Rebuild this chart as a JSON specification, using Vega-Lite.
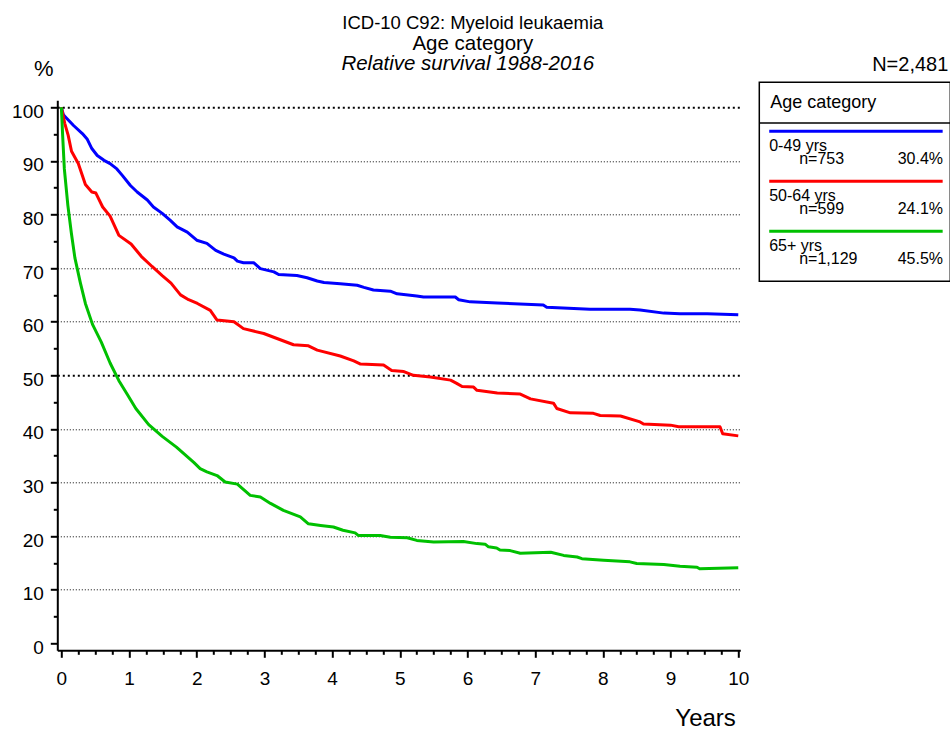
{
  "$schema": "https://vega.github.io/schema/vega-lite/v6.json",
  "autosize": {"type": "pad"},
  "padding": {"left": 11.3, "top": 14.3, "right": 0, "bottom": 0},
  "background": "white",
  "bounds": "flush",
  "spacing": 19,
  "config": {
    "font": "Liberation Sans",
    "view": {"stroke": null},
    "axis": {
      "labelColor": "black",
      "tickColor": "black",
      "domainColor": "black",
      "titleColor": "black",
      "labelFont": "Liberation Sans",
      "titleFont": "Liberation Sans"
    },
    "text": {"color": "black", "font": "Liberation Sans"}
  },
  "datasets": {
    "survival": [
      {"group": "0-49 yrs", "year": 0, "survival": 100},
      {"group": "0-49 yrs", "year": 0.03, "survival": 98.6},
      {"group": "0-49 yrs", "year": 0.06, "survival": 98.2},
      {"group": "0-49 yrs", "year": 0.18, "survival": 96.6},
      {"group": "0-49 yrs", "year": 0.31, "survival": 95.1},
      {"group": "0-49 yrs", "year": 0.38, "survival": 94.1},
      {"group": "0-49 yrs", "year": 0.45, "survival": 92.3},
      {"group": "0-49 yrs", "year": 0.53, "survival": 91.0},
      {"group": "0-49 yrs", "year": 0.63, "survival": 90.1},
      {"group": "0-49 yrs", "year": 0.72, "survival": 89.5},
      {"group": "0-49 yrs", "year": 0.82, "survival": 88.5},
      {"group": "0-49 yrs", "year": 0.90, "survival": 87.3},
      {"group": "0-49 yrs", "year": 1.02, "survival": 85.4},
      {"group": "0-49 yrs", "year": 1.12, "survival": 84.2},
      {"group": "0-49 yrs", "year": 1.27, "survival": 82.7},
      {"group": "0-49 yrs", "year": 1.36, "survival": 81.4},
      {"group": "0-49 yrs", "year": 1.49, "survival": 80.2},
      {"group": "0-49 yrs", "year": 1.61, "survival": 78.9},
      {"group": "0-49 yrs", "year": 1.71, "survival": 77.7},
      {"group": "0-49 yrs", "year": 1.86, "survival": 76.7},
      {"group": "0-49 yrs", "year": 2.00, "survival": 75.2},
      {"group": "0-49 yrs", "year": 2.15, "survival": 74.6},
      {"group": "0-49 yrs", "year": 2.28, "survival": 73.3},
      {"group": "0-49 yrs", "year": 2.40, "survival": 72.6},
      {"group": "0-49 yrs", "year": 2.55, "survival": 71.9},
      {"group": "0-49 yrs", "year": 2.60, "survival": 71.3},
      {"group": "0-49 yrs", "year": 2.69, "survival": 71.0},
      {"group": "0-49 yrs", "year": 2.84, "survival": 71.0},
      {"group": "0-49 yrs", "year": 2.94, "survival": 69.9},
      {"group": "0-49 yrs", "year": 3.14, "survival": 69.3},
      {"group": "0-49 yrs", "year": 3.21, "survival": 68.8},
      {"group": "0-49 yrs", "year": 3.48, "survival": 68.6},
      {"group": "0-49 yrs", "year": 3.63, "survival": 68.2},
      {"group": "0-49 yrs", "year": 3.78, "survival": 67.6},
      {"group": "0-49 yrs", "year": 3.88, "survival": 67.3},
      {"group": "0-49 yrs", "year": 4.12, "survival": 67.1},
      {"group": "0-49 yrs", "year": 4.37, "survival": 66.8},
      {"group": "0-49 yrs", "year": 4.47, "survival": 66.4},
      {"group": "0-49 yrs", "year": 4.61, "survival": 65.9},
      {"group": "0-49 yrs", "year": 4.86, "survival": 65.7},
      {"group": "0-49 yrs", "year": 4.96, "survival": 65.2},
      {"group": "0-49 yrs", "year": 5.25, "survival": 64.8},
      {"group": "0-49 yrs", "year": 5.35, "survival": 64.6},
      {"group": "0-49 yrs", "year": 5.82, "survival": 64.6},
      {"group": "0-49 yrs", "year": 5.87, "survival": 64.1},
      {"group": "0-49 yrs", "year": 6.04, "survival": 63.7},
      {"group": "0-49 yrs", "year": 6.44, "survival": 63.5},
      {"group": "0-49 yrs", "year": 7.12, "survival": 63.1},
      {"group": "0-49 yrs", "year": 7.17, "survival": 62.7},
      {"group": "0-49 yrs", "year": 7.81, "survival": 62.3},
      {"group": "0-49 yrs", "year": 8.40, "survival": 62.3},
      {"group": "0-49 yrs", "year": 8.55, "survival": 62.2},
      {"group": "0-49 yrs", "year": 8.90, "survival": 61.6},
      {"group": "0-49 yrs", "year": 9.14, "survival": 61.5},
      {"group": "0-49 yrs", "year": 9.54, "survival": 61.5},
      {"group": "0-49 yrs", "year": 10.0, "survival": 61.3},

      {"group": "50-64 yrs", "year": 0, "survival": 100},
      {"group": "50-64 yrs", "year": 0.05, "survival": 97.0},
      {"group": "50-64 yrs", "year": 0.10, "survival": 94.8},
      {"group": "50-64 yrs", "year": 0.15, "survival": 91.8},
      {"group": "50-64 yrs", "year": 0.25, "survival": 89.5},
      {"group": "50-64 yrs", "year": 0.355, "survival": 85.6},
      {"group": "50-64 yrs", "year": 0.45, "survival": 84.2},
      {"group": "50-64 yrs", "year": 0.51, "survival": 84.0},
      {"group": "50-64 yrs", "year": 0.61, "survival": 81.4},
      {"group": "50-64 yrs", "year": 0.72, "survival": 79.7},
      {"group": "50-64 yrs", "year": 0.85, "survival": 76.1},
      {"group": "50-64 yrs", "year": 1.03, "survival": 74.5},
      {"group": "50-64 yrs", "year": 1.18, "survival": 72.2},
      {"group": "50-64 yrs", "year": 1.34, "survival": 70.3},
      {"group": "50-64 yrs", "year": 1.49, "survival": 68.6},
      {"group": "50-64 yrs", "year": 1.62, "survival": 67.2},
      {"group": "50-64 yrs", "year": 1.76, "survival": 65.0},
      {"group": "50-64 yrs", "year": 1.88, "survival": 64.1},
      {"group": "50-64 yrs", "year": 2.01, "survival": 63.4},
      {"group": "50-64 yrs", "year": 2.20, "survival": 62.1},
      {"group": "50-64 yrs", "year": 2.30, "survival": 60.3},
      {"group": "50-64 yrs", "year": 2.55, "survival": 60.0},
      {"group": "50-64 yrs", "year": 2.69, "survival": 58.7},
      {"group": "50-64 yrs", "year": 2.99, "survival": 57.8},
      {"group": "50-64 yrs", "year": 3.43, "survival": 55.7},
      {"group": "50-64 yrs", "year": 3.65, "survival": 55.5},
      {"group": "50-64 yrs", "year": 3.78, "survival": 54.7},
      {"group": "50-64 yrs", "year": 4.12, "survival": 53.6},
      {"group": "50-64 yrs", "year": 4.32, "survival": 52.7},
      {"group": "50-64 yrs", "year": 4.42, "survival": 52.1},
      {"group": "50-64 yrs", "year": 4.76, "survival": 51.9},
      {"group": "50-64 yrs", "year": 4.88, "survival": 50.9},
      {"group": "50-64 yrs", "year": 5.06, "survival": 50.7},
      {"group": "50-64 yrs", "year": 5.20, "survival": 50.0},
      {"group": "50-64 yrs", "year": 5.45, "survival": 49.7},
      {"group": "50-64 yrs", "year": 5.75, "survival": 49.1},
      {"group": "50-64 yrs", "year": 5.84, "survival": 48.5},
      {"group": "50-64 yrs", "year": 5.92, "survival": 47.9},
      {"group": "50-64 yrs", "year": 6.09, "survival": 47.8},
      {"group": "50-64 yrs", "year": 6.14, "survival": 47.2},
      {"group": "50-64 yrs", "year": 6.44, "survival": 46.7},
      {"group": "50-64 yrs", "year": 6.78, "survival": 46.5},
      {"group": "50-64 yrs", "year": 6.93, "survival": 45.6},
      {"group": "50-64 yrs", "year": 7.27, "survival": 44.8},
      {"group": "50-64 yrs", "year": 7.32, "survival": 43.8},
      {"group": "50-64 yrs", "year": 7.52, "survival": 43.0},
      {"group": "50-64 yrs", "year": 7.86, "survival": 42.9},
      {"group": "50-64 yrs", "year": 7.96, "survival": 42.5},
      {"group": "50-64 yrs", "year": 8.26, "survival": 42.4},
      {"group": "50-64 yrs", "year": 8.55, "survival": 41.3},
      {"group": "50-64 yrs", "year": 8.60, "survival": 40.9},
      {"group": "50-64 yrs", "year": 9.00, "survival": 40.7},
      {"group": "50-64 yrs", "year": 9.12, "survival": 40.4},
      {"group": "50-64 yrs", "year": 9.73, "survival": 40.4},
      {"group": "50-64 yrs", "year": 9.77, "survival": 39.1},
      {"group": "50-64 yrs", "year": 10.0, "survival": 38.7},

      {"group": "65+ yrs", "year": 0, "survival": 100},
      {"group": "65+ yrs", "year": 0.02, "survival": 94.5},
      {"group": "65+ yrs", "year": 0.044, "survival": 88.5},
      {"group": "65+ yrs", "year": 0.096, "survival": 81.7},
      {"group": "65+ yrs", "year": 0.148, "survival": 76.5},
      {"group": "65+ yrs", "year": 0.20, "survival": 71.9},
      {"group": "65+ yrs", "year": 0.28, "survival": 67.3},
      {"group": "65+ yrs", "year": 0.355, "survival": 63.4},
      {"group": "65+ yrs", "year": 0.46, "survival": 59.5},
      {"group": "65+ yrs", "year": 0.59, "survival": 56.2},
      {"group": "65+ yrs", "year": 0.72, "survival": 52.3},
      {"group": "65+ yrs", "year": 0.85, "survival": 49.0},
      {"group": "65+ yrs", "year": 0.975, "survival": 46.4},
      {"group": "65+ yrs", "year": 1.10, "survival": 43.8},
      {"group": "65+ yrs", "year": 1.29, "survival": 40.8},
      {"group": "65+ yrs", "year": 1.49, "survival": 38.6},
      {"group": "65+ yrs", "year": 1.70, "survival": 36.6},
      {"group": "65+ yrs", "year": 1.96, "survival": 33.7},
      {"group": "65+ yrs", "year": 2.05, "survival": 32.6},
      {"group": "65+ yrs", "year": 2.15, "survival": 32.0},
      {"group": "65+ yrs", "year": 2.30, "survival": 31.3},
      {"group": "65+ yrs", "year": 2.42, "survival": 30.1},
      {"group": "65+ yrs", "year": 2.60, "survival": 29.7},
      {"group": "65+ yrs", "year": 2.79, "survival": 27.6},
      {"group": "65+ yrs", "year": 2.94, "survival": 27.3},
      {"group": "65+ yrs", "year": 3.09, "survival": 26.1},
      {"group": "65+ yrs", "year": 3.28, "survival": 24.8},
      {"group": "65+ yrs", "year": 3.53, "survival": 23.6},
      {"group": "65+ yrs", "year": 3.65, "survival": 22.3},
      {"group": "65+ yrs", "year": 3.83, "survival": 22.0},
      {"group": "65+ yrs", "year": 4.02, "survival": 21.7},
      {"group": "65+ yrs", "year": 4.16, "survival": 21.1},
      {"group": "65+ yrs", "year": 4.34, "survival": 20.6},
      {"group": "65+ yrs", "year": 4.39, "survival": 20.1},
      {"group": "65+ yrs", "year": 4.71, "survival": 20.1},
      {"group": "65+ yrs", "year": 4.86, "survival": 19.8},
      {"group": "65+ yrs", "year": 5.11, "survival": 19.7},
      {"group": "65+ yrs", "year": 5.25, "survival": 19.2},
      {"group": "65+ yrs", "year": 5.50, "survival": 18.9},
      {"group": "65+ yrs", "year": 5.94, "survival": 19.0},
      {"group": "65+ yrs", "year": 6.14, "survival": 18.6},
      {"group": "65+ yrs", "year": 6.26, "survival": 18.5},
      {"group": "65+ yrs", "year": 6.31, "survival": 18.0},
      {"group": "65+ yrs", "year": 6.43, "survival": 17.8},
      {"group": "65+ yrs", "year": 6.48, "survival": 17.4},
      {"group": "65+ yrs", "year": 6.63, "survival": 17.3},
      {"group": "65+ yrs", "year": 6.78, "survival": 16.8},
      {"group": "65+ yrs", "year": 7.23, "survival": 17.0},
      {"group": "65+ yrs", "year": 7.42, "survival": 16.4},
      {"group": "65+ yrs", "year": 7.62, "survival": 16.1},
      {"group": "65+ yrs", "year": 7.69, "survival": 15.8},
      {"group": "65+ yrs", "year": 8.01, "survival": 15.5},
      {"group": "65+ yrs", "year": 8.40, "survival": 15.2},
      {"group": "65+ yrs", "year": 8.50, "survival": 14.9},
      {"group": "65+ yrs", "year": 8.90, "survival": 14.7},
      {"group": "65+ yrs", "year": 9.14, "survival": 14.4},
      {"group": "65+ yrs", "year": 9.39, "survival": 14.2},
      {"group": "65+ yrs", "year": 9.43, "survival": 13.9},
      {"group": "65+ yrs", "year": 10.0, "survival": 14.1}
    ],
    "groups": [
      {"group": "0-49 yrs", "rank": 1, "n": "n=753", "share": "30.4%"},
      {"group": "50-64 yrs", "rank": 2, "n": "n=599", "share": "24.1%"},
      {"group": "65+ yrs", "rank": 3, "n": "n=1,129", "share": "45.5%"}
    ]
  },
  "hconcat": [
    {
      "width": 683,
      "height": 550,
      "title": {
        "text": "ICD-10 C92: Myeloid leukaemia",
        "subtitle": "Age category",
        "anchor": "middle",
        "frame": "group",
        "dx": 74,
        "offset": -1.5,
        "fontSize": 18.5,
        "fontWeight": "normal",
        "color": "black",
        "subtitleFontSize": 20.5,
        "subtitleColor": "black",
        "subtitlePadding": 1.5
      },
      "data": {"name": "survival"},
      "layer": [
        {
          "mark": {"type": "line", "strokeWidth": 3, "strokeJoin": "round"},
          "encoding": {
            "x": {
              "field": "year",
              "type": "quantitative",
              "scale": {"domain": [-0.06, 10.03], "nice": false, "zero": false},
              "axis": {
                "orient": "bottom",
                "values": [0, 0.25, 0.5, 0.75, 1, 1.25, 1.5, 1.75, 2, 2.25, 2.5, 2.75, 3, 3.25, 3.5, 3.75, 4, 4.25, 4.5, 4.75, 5, 5.25, 5.5, 5.75, 6, 6.25, 6.5, 6.75, 7, 7.25, 7.5, 7.75, 8, 8.25, 8.5, 8.75, 9, 9.25, 9.5, 9.75, 10],
                "labelExpr": "datum.value % 1 === 0 ? format(datum.value, 'd') : ''",
                "tickSize": {"condition": {"test": "datum.value % 1 !== 0", "value": 4}, "value": 7},
                "tickWidth": 2,
                "domainWidth": 2,
                "grid": false,
                "labelFontSize": 19,
                "labelPadding": 12,
                "labelFlush": false,
                "labelOverlap": false,
                "title": "Years",
                "titleFontSize": 24,
                "titleFontWeight": "normal",
                "titleX": 678,
                "titleY": 75,
                "titleAlign": "right",
                "titleBaseline": "alphabetic"
              }
            },
            "y": {
              "field": "survival",
              "type": "quantitative",
              "scale": {"domain": [-1.3, 101.3], "nice": false, "zero": false},
              "axis": {
                "orient": "left",
                "values": [0, 5, 10, 15, 20, 25, 30, 35, 40, 45, 50, 55, 60, 65, 70, 75, 80, 85, 90, 95, 100],
                "labelExpr": "datum.value % 10 === 0 ? format(datum.value, 'd') : ''",
                "tickSize": {"condition": {"test": "datum.value % 10 !== 0", "value": 4}, "value": 7},
                "tickWidth": 2,
                "domainWidth": 2,
                "grid": true,
                "gridColor": "black",
                "gridOpacity": {"condition": {"test": "datum.value % 10 !== 0 || datum.value === 0", "value": 0}, "value": 1},
                "gridWidth": {"condition": {"test": "datum.value % 50 === 0", "value": 2}, "value": 1},
                "gridDash": {"condition": {"test": "datum.value % 50 === 0", "value": [2, 3]}, "value": [1, 2]},
                "labelFontSize": 19,
                "labelPadding": 7,
                "labelOffset": 4,
                "labelBaseline": "middle",
                "labelOverlap": false,
                "title": "%",
                "titleAngle": 0,
                "titleFontSize": 22,
                "titleFontWeight": "normal",
                "titleX": -14,
                "titleY": -25,
                "titleAlign": "center",
                "titleBaseline": "alphabetic"
              }
            },
            "color": {
              "field": "group",
              "type": "nominal",
              "scale": {"domain": ["0-49 yrs", "50-64 yrs", "65+ yrs"], "range": ["#0000ff", "#ff0000", "#00c000"]},
              "legend": null
            }
          }
        },
        {
          "mark": {"type": "rule", "strokeOpacity": 0},
          "encoding": {
            "x": {
              "field": "year",
              "type": "quantitative",
              "axis": {
                "orient": "top",
                "domain": false,
                "ticks": false,
                "labels": false,
                "grid": false,
                "title": "Relative survival 1988-2016",
                "titleFontStyle": "italic",
                "titleFontWeight": "normal",
                "titleFontSize": 20.5,
                "titleX": 410,
                "titleY": -31,
                "titleAlign": "center",
                "titleBaseline": "alphabetic",
                "titleAngle": 0
              }
            }
          }
        }
      ],
      "resolve": {"axis": {"x": "independent"}}
    },
    {
      "width": 191,
      "height": 181,
      "title": {
        "text": "N=2,481",
        "anchor": "end",
        "frame": "group",
        "fontSize": 20,
        "fontWeight": "normal",
        "color": "black",
        "offset": 7,
        "dx": -2
      },
      "layer": [
        {
          "data": {"values": [{}]},
          "mark": {"type": "rect", "filled": false, "color": "black", "strokeWidth": 1.5},
          "encoding": {
            "x": {"datum": 0, "type": "quantitative", "scale": {"domain": [0, 1], "nice": false, "zero": false}, "axis": null},
            "x2": {"datum": 1},
            "y": {"datum": 0.02, "type": "quantitative", "scale": {"domain": [0.38, 4], "nice": false, "zero": false, "reverse": true}, "axis": null},
            "y2": {"datum": 4}
          }
        },
        {
          "data": {"values": [{}]},
          "mark": {"type": "rule", "color": "black", "strokeWidth": 1.5},
          "encoding": {
            "x": {"datum": 0, "type": "quantitative"},
            "x2": {"datum": 1},
            "y": {"datum": 0.834, "type": "quantitative"}
          }
        },
        {
          "data": {"values": [{}]},
          "mark": {"type": "text", "align": "left", "baseline": "alphabetic", "fontSize": 18},
          "encoding": {
            "x": {"datum": 0.057, "type": "quantitative"},
            "y": {"datum": 0.526, "type": "quantitative"},
            "text": {"value": "Age category"}
          }
        },
        {
          "data": {"name": "groups"},
          "mark": {"type": "rule", "strokeWidth": 3},
          "encoding": {
            "x": {"datum": 0.052, "type": "quantitative"},
            "x2": {"datum": 0.96},
            "y": {"field": "rank", "type": "quantitative"},
            "color": {
              "field": "group",
              "type": "nominal",
              "scale": {"domain": ["0-49 yrs", "50-64 yrs", "65+ yrs"], "range": ["#0000ff", "#ff0000", "#00c000"]},
              "legend": null
            }
          }
        },
        {
          "data": {"name": "groups"},
          "mark": {"type": "text", "align": "left", "baseline": "alphabetic", "fontSize": 16, "dy": 20},
          "encoding": {
            "x": {"datum": 0.052, "type": "quantitative"},
            "y": {"field": "rank", "type": "quantitative"},
            "text": {"field": "group"}
          }
        },
        {
          "data": {"name": "groups"},
          "mark": {"type": "text", "align": "left", "baseline": "alphabetic", "fontSize": 16, "dy": 33},
          "encoding": {
            "x": {"datum": 0.209, "type": "quantitative"},
            "y": {"field": "rank", "type": "quantitative"},
            "text": {"field": "n"}
          }
        },
        {
          "data": {"name": "groups"},
          "mark": {"type": "text", "align": "right", "baseline": "alphabetic", "fontSize": 16, "dy": 33},
          "encoding": {
            "x": {"datum": 0.962, "type": "quantitative"},
            "y": {"field": "rank", "type": "quantitative"},
            "text": {"field": "share"}
          }
        }
      ]
    }
  ]
}
